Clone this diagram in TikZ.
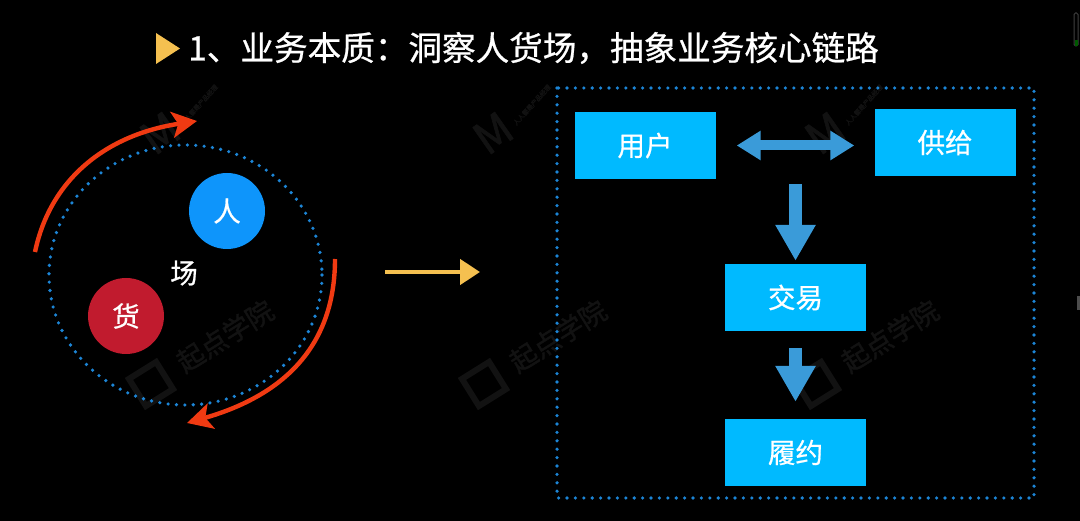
\documentclass[tikz,border=0pt]{standalone}
\usepackage{fontspec}
\setmainfont{Noto Sans CJK SC}[FakeBold=0.7]
\newfontfamily\wmfont{Noto Sans CJK SC}[FakeBold=1.5]
\usetikzlibrary{arrows.meta,calc}
\definecolor{boxblue}{HTML}{00BAFF}
\definecolor{arrowblue}{HTML}{3A9BD9}
\definecolor{dotblue}{HTML}{1C85D6}
\definecolor{renblue}{HTML}{0E95FB}
\definecolor{huored}{HTML}{C11B2E}
\definecolor{sweepred}{HTML}{F03A12}
\definecolor{gold}{HTML}{F5C050}
\definecolor{wm}{HTML}{121212}
\tikzset{
  x=1pt,y=-1pt,
  txt/.style={text=white,font=\fontsize{27.5}{28}\selectfont,inner sep=0pt},
  flowbox/.style={fill=boxblue,minimum width=141pt,minimum height=67pt,inner sep=0pt,
    text=white,font=\fontsize{27.5}{28}\selectfont},
  disc/.style={circle,minimum size=76pt,inner sep=0pt,text=white,font=\fontsize{27.5}{28}\selectfont},
  dotted line/.style={dotblue,line width=3.6pt,line cap=round,dash pattern=on 0pt off 8.4pt},
  blockarrow/.style={arrowblue,line width=12.6pt,-{Triangle[length=36pt,width=38pt]}},
  twoway/.style={arrowblue,line width=10pt,{Triangle[length=24pt,width=28pt]}-{Triangle[length=24pt,width=28pt]}},
  sweep/.style={sweepred,line width=4.4pt,-{Stealth[length=25pt,width=26pt,inset=6pt]}},
  wmtext/.style={text=wm,font=\wmfont\fontsize{27}{27}\selectfont,rotate=32,inner sep=0pt},
  wmsmall/.style={text=wm,font=\wmfont\fontsize{6.5}{7}\selectfont,rotate=48,inner sep=0pt},
  wmlogo/.style={draw=wm,line width=6pt,rotate=32,minimum size=32pt,inner sep=0pt},
  wmm/.style={text=wm,font=\wmfont\fontsize{44}{44}\selectfont,rotate=35,inner sep=0pt},
}
\begin{document}
\begin{tikzpicture}
\useasboundingbox (0,0) rectangle (1080,521);
\fill[black] (0,0) rectangle (1080,521);

% watermarks
\foreach \dx/\n in {0/a,333/b,665/c}{
  \node[wmtext] (wt\n) at (225+\dx,336) {起点学院};
  \node[wmlogo] (wl\n) at (151+\dx,384) {};
  \node[wmm] (wm\n) at (160+\dx,133) {M};
  \node[wmsmall] (ws\n) at (199+\dx,105) {人人都是产品经理};
}

% edge marks
\draw[line width=1pt,draw=black!75!white,rounded corners=1.5pt] (1074,13) rectangle (1078,46);
\fill[green!35!black] (1074.5,40) rectangle (1077.5,46);
\fill[black!70!white] (1077,296) rectangle (1080,310);

% title
\fill[gold] (156,33) -- (180,48.5) -- (156,64) -- cycle;
\node[text=white,anchor=west,inner sep=0pt,font=\fontsize{33.6}{34}\selectfont] (title) at (188,48) {1、业务本质：洞察人货场，抽象业务核心链路};

% left: people, goods, place
\draw[dotted line] (185.5,275) ellipse [x radius=136.5,y radius=130];
\node[disc,fill=renblue] (ren) at (227,211) {人};
\node[disc,fill=huored] (huo) at (126,316) {货};
\node[txt] (chang) at (184,273) {场};

\coordinate (s1) at (35,252);
\coordinate (e1) at (197,121);
\coordinate (s2) at (335,259);
\coordinate (e2) at (187,423);
\draw[sweep] (s1) .. controls (50,180) and (105,135) .. (e1);
\draw[sweep] (s2) .. controls (335,345) and (285,395) .. (e2);

% yellow arrow
\coordinate (g1) at (385,272);
\coordinate (g2) at (480,272);
\draw[gold,line width=4.5pt,-{Triangle[length=20pt,width=25pt]}] (g1) -- (g2);

% right panel
\draw[dotted line] (557,88) rectangle (1034,498);
\node[flowbox] (user) at (645,145.5) {用户};
\node[flowbox] (supply) at (945,142.5) {供给};
\node[flowbox] (trade) at (795.5,297.5) {交易};
\node[flowbox] (fulfil) at (795.5,452.5) {履约};

\draw[twoway,shorten <=21pt,shorten >=20pt] (user.east) -- (user.east -| supply.west);
\draw[blockarrow,shorten <=5pt,shorten >=3pt] (trade.north |- user.south) -- (trade.north);
\draw[blockarrow,shorten <=17pt,shorten >=17pt] (trade.south) -- (fulfil.north);
\end{tikzpicture}
\end{document}
